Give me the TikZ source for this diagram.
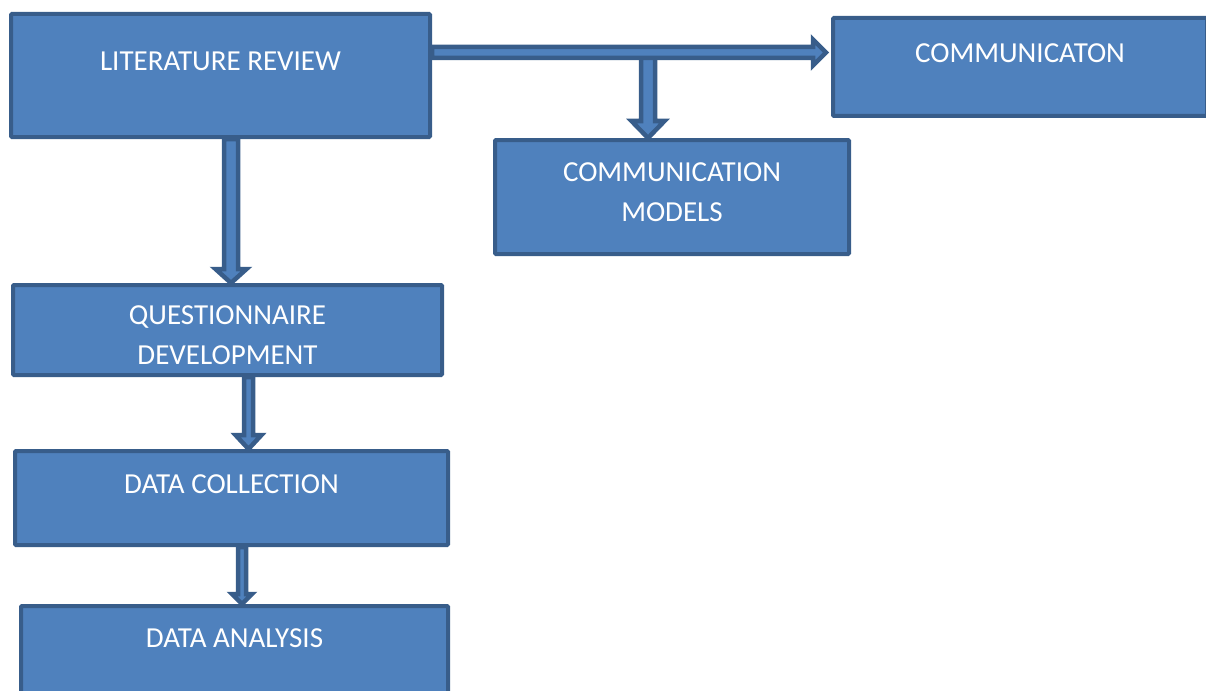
\documentclass[tikz,border=0pt]{standalone}
\usepackage{fontspec}
\setmainfont{Carlito}
\usetikzlibrary{calc}

\definecolor{boxfill}{HTML}{4F81BD}
\definecolor{boxline}{HTML}{385D8A}

\tikzset{
  stage/.style={draw=boxline, fill=boxfill, line width=4pt, rectangle,
    inner sep=0pt, rounded corners=1pt},
  caption/.style={text=white, anchor=north, inner sep=0pt, align=center,
    font=\fontsize{29}{40.5}\selectfont},
  arrowbody/.style={draw=boxline, fill=boxfill, line width=4.5pt, line join=miter},
}

% Block arrow from #1 to #2: shaft half-width #3, head half-width #4, head length #5
\newcommand\blockarrow[5]{%
  \path (#1) coordinate (ba-s) (#2) coordinate (ba-e);
  \path ($(ba-e)!#5!(ba-s)$) coordinate (ba-h);
  \draw[arrowbody]
    ($(ba-s)!#3!90:(ba-e)$) -- ($(ba-h)!#3!-90:(ba-s)$) --
    ($(ba-h)!#4!-90:(ba-s)$) -- (ba-e) --
    ($(ba-h)!#4!90:(ba-s)$) -- ($(ba-h)!#3!90:(ba-s)$) --
    ($(ba-s)!#3!-90:(ba-e)$) -- cycle;
}

\begin{document}
\begin{tikzpicture}[x=1pt, y=-1pt]
  \useasboundingbox (0,0) rectangle (1206,690);
  \clip (0,0) rectangle (1206,690);

  % stages
  \node[stage, minimum width=419pt, minimum height=123pt] (lr) at (220.5,75.5) {};
  \node[stage, minimum width=374pt, minimum height=98pt]  (comm) at (1020,67) {};
  \node[stage, minimum width=354pt, minimum height=114pt] (cm) at (672,197) {};
  \node[stage, minimum width=429pt, minimum height=90pt]  (qd) at (227.5,330) {};
  \node[stage, minimum width=433pt, minimum height=94pt]  (dc) at (231.5,498) {};
  \node[stage, minimum width=427pt, minimum height=96pt]  (da) at (234.5,654) {};

  % captions
  \node[caption] (lr-t)   at ($(lr.north)+(0,40)$)   {LITERATURE REVIEW};
  \node[caption] (comm-t) at ($(comm.north)+(0,27)$) {COMMUNICATON};
  \node[caption] (cm-t)   at ($(cm.north)+(0,24)$)   {COMMUNICATION\\MODELS};
  \node[caption] (qd-t)   at ($(qd.north)+(0,22)$)   {QUESTIONNAIRE\\DEVELOPMENT};
  \node[caption] (dc-t)   at ($(dc.north)+(0,25)$)   {DATA COLLECTION};
  \node[caption] (da-t)   at ($(da.north)+(0,24)$)   {DATA ANALYSIS};

  % connector points
  \coordinate (hs) at ($(lr.north east)+(0,40.5)$);
  \coordinate (ce) at (hs -| comm.west);
  \coordinate (he) at ($(ce)+(-5,0)$);
  \coordinate (bx) at ($(cm.north)+(-24,0)$);
  \coordinate (branch) at (bx |- hs);
  \coordinate (ls) at ($(lr.south)+(10.5,0)$);
  \coordinate (le) at (ls |- qd.north);
  \coordinate (qs) at ($(qd.south)+(21,0)$);
  \coordinate (qe) at (qs |- dc.north);
  \coordinate (ds) at ($(dc.south)+(10.5,0)$);
  \coordinate (de) at (ds |- da.north);

  % connectors
  \blockarrow{branch}{bx}{7pt}{16.5pt}{17pt}
  \blockarrow{hs}{he}{5.5pt}{13pt}{13pt}
  \blockarrow{ls}{le}{7pt}{15.5pt}{14pt}
  \blockarrow{qs}{qe}{4.5pt}{13pt}{14pt}
  \blockarrow{ds}{de}{4pt}{10pt}{10pt}
\end{tikzpicture}
\end{document}
